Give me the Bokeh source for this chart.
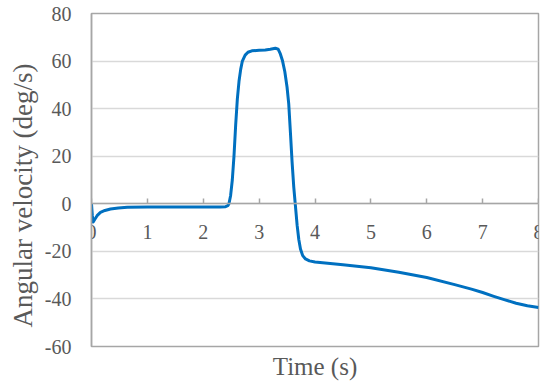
from bokeh.plotting import figure
from bokeh.models import Range1d, FixedTicker, LinearAxis, ColumnDataSource, Title
from bokeh.embed import file_html
from bokeh.resources import INLINE

# Data
time_s = [0, 0.015, 0.03, 0.06, 0.1, 0.16, 0.24, 0.34, 0.48, 0.64, 1.0, 1.5, 2.0,
          2.3, 2.4, 2.44, 2.46, 2.49, 2.52, 2.55, 2.58, 2.61, 2.64, 2.67, 2.70, 2.75,
          2.80, 2.87, 3.0, 3.11, 3.2, 3.29, 3.34, 3.38, 3.42, 3.46, 3.50, 3.53, 3.56,
          3.59, 3.62, 3.65, 3.68, 3.71, 3.74, 3.78, 3.83, 3.9, 4.0, 4.5, 5.0, 5.5,
          6.0, 6.5, 6.8, 7.0, 7.2, 7.4, 7.6, 7.8, 8.0]
ang_vel = [0, -5, -7.7, -6.5, -5, -3.6, -2.8, -2.2, -1.8, -1.5, -1.4, -1.4, -1.4,
           -1.3, -1.2, -0.8, 0, 3.5, 10, 20, 33, 44, 51.5, 56.5, 60, 62.5,
           63.7, 64.3, 64.5, 64.7, 65.0, 65.4, 65.0, 63.0, 60.0, 55.5, 49, 42, 30,
           17.5, 7, -1, -9, -15, -19, -21.8, -23.2, -24.0, -24.5, -25.6, -26.9, -28.8,
           -31.0, -34.0, -35.9, -37.3, -38.9, -40.4, -41.8, -42.9, -43.6]

x_ticks = [0, 1, 2, 3, 4, 5, 6, 7, 8]
y_ticks = [-60, -40, -20, 0, 20, 40, 60, 80]
y_tick_labels = {t: str(t) for t in y_ticks}   # plain hyphen minus, as in the reference
x_title = "Time (s)"
y_title = "Angular velocity (deg/s)"

FONT = "Liberation Serif"
TXT = "#595959"
AXC = "#a6a6a6"

p = figure(width=550, height=388, output_backend="svg", toolbar_location=None,
           x_range=Range1d(0, 8), y_range=Range1d(-60, 80),
           min_border_left=91, min_border_right=12, min_border_top=13, min_border_bottom=42)
p.background_fill_color = "white"
p.border_fill_color = "white"
p.outline_line_color = AXC
p.outline_line_width = 1.5

src = ColumnDataSource(dict(t=time_s, v=ang_vel))
p.line("t", "v", source=src, line_color="#0070C0", line_width=3, line_join="round")

# x axis crossing at y = 0
xa = p.xaxis[0]
xa.fixed_location = 0
xa.ticker = FixedTicker(ticks=x_ticks)
xa.major_tick_in = 5
xa.major_tick_out = 0
xa.minor_tick_line_color = None
xa.axis_line_color = AXC
xa.axis_line_width = 1.5
xa.major_tick_line_color = AXC
xa.major_tick_line_width = 1.5
xa.major_label_text_font = FONT
xa.major_label_text_font_size = "20px"
xa.major_label_text_color = TXT
xa.major_label_standoff = 21

# separate axis only for the "Time (s)" title at the bottom
xl = LinearAxis(ticker=FixedTicker(ticks=[]), axis_label=x_title,
                axis_line_color=None, major_tick_line_color=None, minor_tick_line_color=None,
                axis_label_text_font=FONT, axis_label_text_font_size="25px",
                axis_label_text_font_style="normal", axis_label_text_color=TXT,
                axis_label_standoff=6)
p.add_layout(xl, "below")

ya = p.yaxis[0]
ya.ticker = FixedTicker(ticks=y_ticks)
ya.major_label_overrides = y_tick_labels
ya.major_tick_in = 0
ya.major_tick_out = 0
ya.minor_tick_line_color = None
ya.axis_line_color = AXC
ya.axis_line_width = 1.5
ya.major_label_text_font = FONT
ya.major_label_text_font_size = "20px"
ya.major_label_text_color = TXT
ya.major_label_standoff = 20

# y title as a side title, starting a bit above the frame bottom
ytitle = Title(text=y_title, align="left", offset=19, vertical_align="middle",
               text_font=FONT, text_font_size="27px", text_font_style="normal",
               text_color=TXT, standoff=6)
p.add_layout(ytitle, "left")

p.xgrid.grid_line_color = None
p.ygrid.ticker = FixedTicker(ticks=y_ticks)
p.ygrid.grid_line_color = "#d9d9d9"
p.ygrid.grid_line_width = 1.5

open("out.html", "w").write(file_html(p, INLINE))
